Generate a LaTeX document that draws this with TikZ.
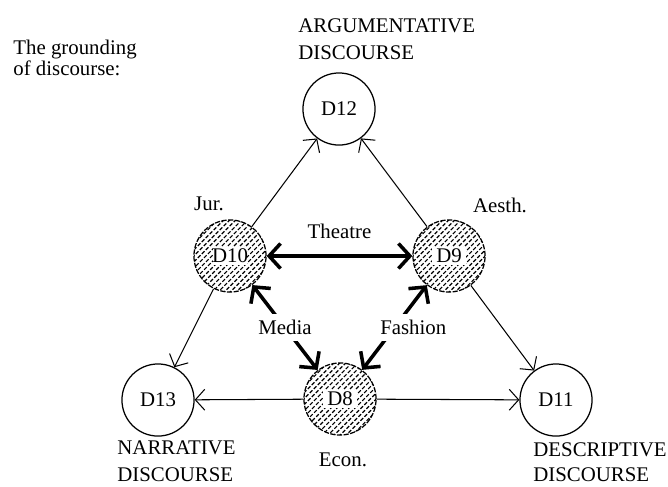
\documentclass[tikz,border=0pt]{standalone}
\usepackage{fontspec}
\setmainfont{Liberation Serif}
\usetikzlibrary{arrows.meta}
\tikzset{
  disc/.style={circle, draw, line width=0.6pt, minimum size=34.6pt,
    inner sep=0pt, fill=white},
  hatched/.style={disc, dash pattern=on 2.5pt off 0.7pt, path picture={
    \foreach \k in {-9,...,9}
      \draw[line width=0.55pt, dash pattern=on 1.8pt off 0.9pt]
        ([shift={(\k*2.9pt-20pt,-20pt)}]path picture bounding box.center)
        -- ++(40pt,40pt);
    \fill[white] ([shift={(-8pt,-4.5pt)}]path picture bounding box.center)
      rectangle ++(16pt,9pt);}},
  ground/.style={-{Straight Barb[length=4.5pt,width=10pt]}, line width=0.5pt},
  bond/.style={{Straight Barb[length=5.5pt,width=12pt]}-{Straight Barb[length=5.5pt,width=12pt]},
    line width=1.7pt},
  caption/.style={align=left, inner sep=0pt, anchor=north west},
  cut/.style={fill=white, inner sep=3pt},
}

\begin{document}
\begin{tikzpicture}[x=0.48pt, y=-0.48pt]
  \useasboundingbox (0,0) rectangle (668,486);

  \node[caption, font=\fontsize{10}{10}\selectfont] (title) at (13,40)
    {The grounding\\of discourse:};

  \node[disc]    (d12) at (339,109) {D12};
  \node[hatched] (d10) at (230,256) {D10};
  \node[hatched] (d9)  at (449,256) {D9};
  \node[disc]    (d13) at (158,400) {D13};
  \node[hatched] (d8)  at (340,399) {D8};
  \node[disc]    (d11) at (556,400) {D11};

  \node[caption] (arg)  at (298,18)  {ARGUMENTATIVE\\[1pt]DISCOURSE};
  \node[caption] (narr) at (117,440) {NARRATIVE\\[1pt]DISCOURSE};
  \node[caption] (desc) at (533,442) {DESCRIPTIVE\\DISCOURSE};
  \node (jur)   at (209,204) {Jur.};
  \node (aesth) at (500,205) {Aesth.};
  \node (econ)  at (343,460) {Econ.};

  \draw[ground] (d10) -- (d12);
  \draw[ground] (d9)  -- (d12);
  \draw[ground] (d10) -- (d13);
  \draw[ground] (d9)  -- (d11);
  \draw[ground] (d8)  -- (d13);
  \draw[ground] (d8)  -- (d11);

  \draw[bond] (d10) -- (d9) node[midway, above=4pt] (theatre) {Theatre};
  \draw[bond] (d10) -- (d8) node[midway, cut] (media) {Media};
  \draw[bond] (d9)  -- (d8) node[midway, cut, xshift=9pt] (fashion) {Fashion};
\end{tikzpicture}
\end{document}
